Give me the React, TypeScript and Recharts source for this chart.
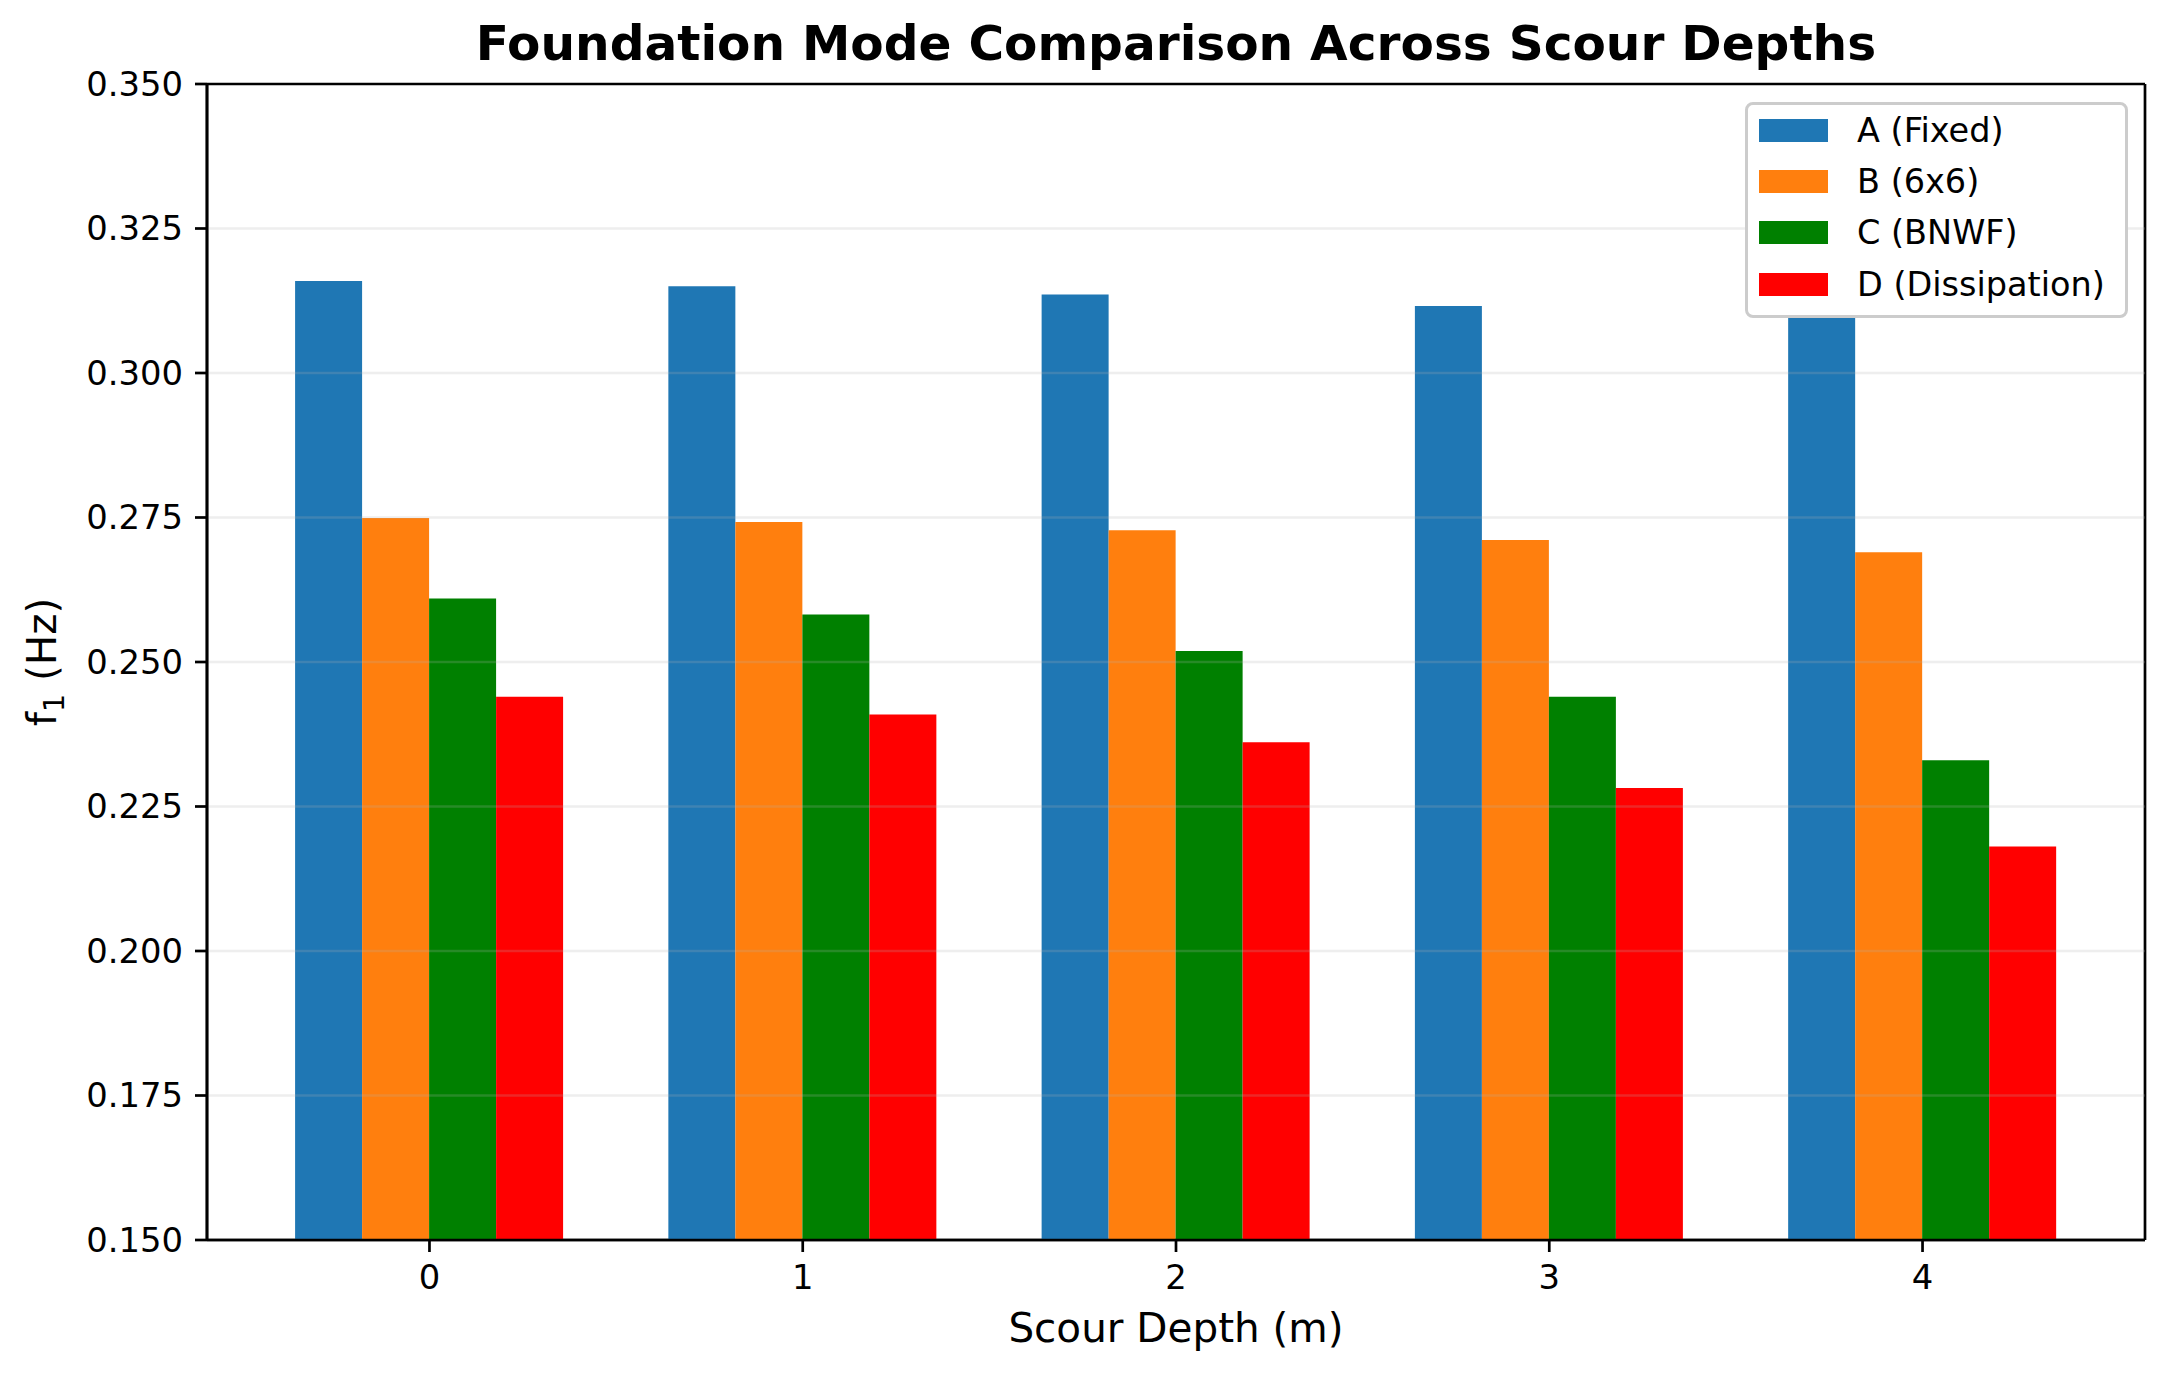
import React from 'react';
import { BarChart, Bar, XAxis, YAxis, ReferenceLine, Legend, Label, CartesianGrid } from 'recharts';

// ---- data ----
const CATEGORIES = ['0', '1', '2', '3', '4'];
const SERIES_NAMES = ['A (Fixed)', 'B (6x6)', 'C (BNWF)', 'D (Dissipation)'];
const SERIES_COLORS = ['#1f77b4', '#ff7f0e', '#008000', '#ff0000'];
const SERIES_A = [0.3159, 0.315, 0.3136, 0.3116, 0.3098];
const SERIES_B = [0.2749, 0.2742, 0.2728, 0.2711, 0.269];
const SERIES_C = [0.261, 0.2582, 0.2519, 0.244, 0.233];
const SERIES_D = [0.244, 0.2409, 0.2361, 0.2282, 0.2181];
const Y_TICKS = [0.15, 0.175, 0.2, 0.225, 0.25, 0.275, 0.3, 0.325, 0.35];
const Y_DOMAIN: [number, number] = [0.15, 0.35];

const SERIES_KEYS = ['a', 'b', 'c', 'd'];

const data = CATEGORIES.map((c, i) => ({
  depth: c,
  a: SERIES_A[i],
  b: SERIES_B[i],
  c: SERIES_C[i],
  d: SERIES_D[i],
}));

// ---- layout ----
const W = 2169;
const H = 1378;
const PLOT_LEFT = 207;
const PLOT_RIGHT = 2145;
const PLOT_TOP = 84;
const PLOT_BOTTOM = 1240;
const PLOT_W = PLOT_RIGHT - PLOT_LEFT;
const N = CATEGORIES.length;
const MARGIN_UNITS = 0.596;
const STEP = PLOT_W / (N - 1 + 2 * MARGIN_UNITS);
const PAD = (MARGIN_UNITS - 0.5) * STEP;
const BAR_W = 0.18 * STEP;
const CAT_GAP = (STEP - SERIES_KEYS.length * BAR_W) / 2;

const FONT = '"DejaVu Sans", Verdana, sans-serif';
const TICK_FS = 33.8;
const LABEL_FS = 40.5;
const TITLE_FS = 48.6;
const SPINE = 2.7;

const LegendBox = () => {
  const rows = [28, 79, 130, 182];
  return (
    <div
      style={{
        position: 'relative',
        width: 383,
        height: 216,
        boxSizing: 'border-box',
        border: '3px solid #cccccc',
        borderRadius: 8,
        background: '#ffffff',
        fontFamily: FONT,
      }}
    >
      {SERIES_NAMES.map((name, i) => (
        <React.Fragment key={name}>
          <div
            style={{
              position: 'absolute',
              left: 11,
              top: rows[i] - 3 - 11.5,
              width: 69,
              height: 23,
              background: SERIES_COLORS[i],
            }}
          />
          <div
            style={{
              position: 'absolute',
              left: 109,
              top: rows[i] - 3 - 19,
              height: 40,
              lineHeight: '40px',
              fontSize: 33.5,
              color: '#000',
              whiteSpace: 'nowrap',
            }}
          >
            {name}
          </div>
        </React.Fragment>
      ))}
    </div>
  );
};

export default function App() {
  return (
    <div style={{ position: 'absolute', left: 0, top: 0, width: W, height: H, background: '#fff' }}>
      <div
        style={{
          position: 'absolute',
          left: PLOT_LEFT,
          width: PLOT_W,
          top: 10,
          textAlign: 'center',
          fontFamily: FONT,
          fontWeight: 'bold',
          fontSize: TITLE_FS,
          lineHeight: '66px',
          color: '#000',
          whiteSpace: 'nowrap',
        }}
      >
        Foundation Mode Comparison Across Scour Depths
      </div>
      <BarChart
        width={W}
        height={H}
        data={data}
        margin={{ top: PLOT_TOP, right: W - PLOT_RIGHT, bottom: 0, left: 0 }}
        barGap={0}
        barCategoryGap={CAT_GAP}
      >
        <CartesianGrid
          stroke="#000"
          strokeWidth={SPINE}
          fill="none"
          horizontalCoordinatesGenerator={(p: any) => [p.offset.top, p.offset.top + p.offset.height]}
          verticalCoordinatesGenerator={(p: any) => [p.offset.left, p.offset.left + p.offset.width]}
        />
        <XAxis
          dataKey="depth"
          type="category"
          height={H - PLOT_BOTTOM}
          padding={{ left: PAD, right: PAD }}
          axisLine={{ stroke: '#000', strokeWidth: SPINE }}
          tickLine={{ stroke: '#000', strokeWidth: SPINE }}
          tickSize={12}
          tickMargin={13}
          tick={{ fill: '#000', fontSize: TICK_FS, fontFamily: FONT }}
        >
          <Label
            content={() => (
              <text
                x={(PLOT_LEFT + PLOT_RIGHT) / 2}
                y={1342}
                textAnchor="middle"
                fontFamily={FONT}
                fontSize={LABEL_FS}
                fill="#000"
              >
                Scour Depth (m)
              </text>
            )}
          />
        </XAxis>
        <YAxis
          type="number"
          domain={Y_DOMAIN}
          ticks={Y_TICKS}
          interval={0}
          allowDataOverflow
          width={PLOT_LEFT}
          tickFormatter={(v: number) => v.toFixed(3)}
          axisLine={{ stroke: '#000', strokeWidth: SPINE }}
          tickLine={{ stroke: '#000', strokeWidth: SPINE }}
          tickSize={12}
          tickMargin={12}
          tick={{ fill: '#000', fontSize: TICK_FS, fontFamily: FONT }}
        >
          <Label
            content={() => (
              <text
                x={56}
                y={(PLOT_TOP + PLOT_BOTTOM) / 2}
                transform={`rotate(-90 56 ${(PLOT_TOP + PLOT_BOTTOM) / 2})`}
                textAnchor="middle"
                fontFamily={FONT}
                fontSize={LABEL_FS}
                fill="#000"
              >
                f
                <tspan fontSize={LABEL_FS * 0.7} dy={8}>1</tspan>
                <tspan dy={-8}> (Hz)</tspan>
              </text>
            )}
          />
        </YAxis>
        {SERIES_KEYS.map((k, i) => (
          <Bar
            key={k}
            dataKey={k}
            name={SERIES_NAMES[i]}
            fill={SERIES_COLORS[i]}
            isAnimationActive={false}
          />
        ))}
        {Y_TICKS.slice(1, -1).map((t) => (
          <ReferenceLine
            key={t}
            y={t}
            stroke="#b0b0b0"
            strokeOpacity={0.22}
            strokeWidth={2.5}
          />
        ))}
        <Legend
          layout="horizontal"
          verticalAlign="middle"
          align="center"
          content={() => <LegendBox />}
          wrapperStyle={{ position: 'absolute', left: 1745, top: 102, width: 383, height: 216 }}
        />
      </BarChart>
    </div>
  );
}
